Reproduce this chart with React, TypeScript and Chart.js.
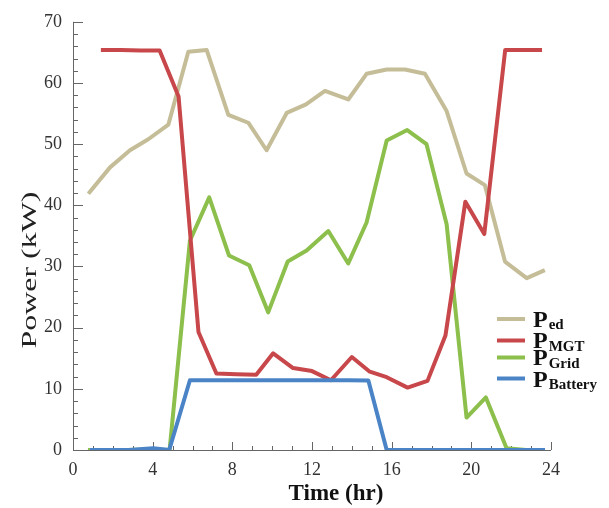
import React, { useEffect, useRef } from "react";
import { Chart, registerables } from "chart.js";

Chart.register(...registerables);

// Time (hr) and power (kW) for each series
const pedTime = [0.77, 1.86, 2.86, 3.78, 4.79, 5.79, 6.71, 7.8, 8.8, 9.72, 10.73, 11.7, 12.65, 13.82, 14.74, 15.75, 16.67, 17.67, 18.76, 19.76, 20.68, 21.69, 22.78, 23.69];
const pedPower = [41.9, 46.2, 49.0, 50.8, 53.2, 65.1, 65.4, 54.8, 53.5, 49.0, 55.1, 56.5, 58.7, 57.3, 61.5, 62.2, 62.2, 61.5, 55.4, 45.2, 43.3, 30.8, 28.1, 29.4];

const mgtTime = [1.4, 2.4, 3.4, 4.35, 5.3, 6.3, 7.2, 8.2, 9.2, 10.05, 11.05, 12.0, 12.95, 14.0, 14.9, 15.75, 16.8, 17.8, 18.7, 19.7, 20.65, 21.7, 22.6, 23.55];
const mgtPower = [65.4, 65.4, 65.3, 65.3, 57.8, 19.3, 12.5, 12.4, 12.3, 15.8, 13.4, 12.9, 11.4, 15.2, 12.8, 11.9, 10.2, 11.3, 18.7, 40.6, 35.3, 65.4, 65.4, 65.4];

const gridTime = [0.75, 1.75, 2.75, 3.75, 4.85, 5.87, 6.84, 7.83, 8.85, 9.8, 10.78, 11.73, 12.82, 13.82, 14.74, 15.75, 16.78, 17.75, 18.76, 19.76, 20.73, 21.77, 22.75, 23.7];
const gridPower = [0, 0, 0, 0.1, 0, 34.2, 41.3, 31.8, 30.2, 22.5, 30.8, 32.6, 35.8, 30.5, 37.2, 50.6, 52.3, 50.0, 36.9, 5.3, 8.6, 0.3, 0, 0];

const batTime = [0.85, 1.8, 2.8, 4.03, 4.83, 5.87, 6.84, 7.83, 8.85, 9.8, 10.78, 11.73, 12.82, 13.82, 14.83, 15.75, 16.78, 17.75, 18.76, 19.76, 20.73, 21.77, 22.75, 23.7];
const batPower = [0, 0, 0, 0.3, 0, 11.4, 11.4, 11.4, 11.4, 11.4, 11.4, 11.4, 11.4, 11.4, 11.35, 0, 0, 0, 0, 0, 0, 0, 0, 0];

const xTicks = [0, 4, 8, 12, 16, 20, 24];
const yTicks = [0, 10, 20, 30, 40, 50, 60, 70];

const seriesMain = ["P", "P", "P", "P"];
const seriesSub = ["ed", "MGT", "Grid", "Battery"];
const seriesColors = ["#C4BD97", "#C8474A", "#8CBF4B", "#4A84C6"];

const SERIF = '"Liberation Serif", "Times New Roman", serif';

function pts(xs: number[], ys: number[]) {
  return xs.map((x, i) => ({ x, y: ys[i] }));
}

const decorPlugin = {
  id: "decor",
  beforeDatasetsDraw(chart: any) {
    const ctx = chart.ctx;
    const xs = chart.scales.x;
    const ys = chart.scales.y;
    const left = xs.getPixelForValue(0);
    const right = xs.getPixelForValue(24);
    const bottom = ys.getPixelForValue(0);
    const top = ys.getPixelForValue(70);
    ctx.save();
    ctx.strokeStyle = "#666";
    ctx.lineWidth = 1;
    ctx.beginPath();
    ctx.moveTo(left + 0.5, top);
    ctx.lineTo(left + 0.5, bottom + 0.5);
    ctx.lineTo(right, bottom + 0.5);
    // y ticks every 2 kW, inward
    for (let v = 0; v <= 70; v += 2) {
      const py = Math.round(ys.getPixelForValue(v)) + 0.5;
      const len = v % 10 === 0 ? 10 : 5;
      ctx.moveTo(left, py);
      ctx.lineTo(left + len, py);
    }
    // x ticks every hour, upward
    for (let h = 1; h <= 24; h += 1) {
      const px = Math.round(xs.getPixelForValue(h)) + 0.5;
      const len = h % 4 === 0 ? 8 : 4;
      ctx.moveTo(px, bottom);
      ctx.lineTo(px, bottom - len);
    }
    ctx.stroke();
    ctx.restore();
  },
  afterDraw(chart: any) {
    const ctx = chart.ctx;
    ctx.save();
    // axis titles
    ctx.fillStyle = "#111";
    ctx.font = `bold 23px ${SERIF}`;
    ctx.textAlign = "center";
    ctx.textBaseline = "alphabetic";
    ctx.fillText("Time (hr)", 336, 500);

    ctx.save();
    ctx.translate(30, 270);
    ctx.rotate(-Math.PI / 2);
    ctx.scale(1.45, 1);
    ctx.font = `22px ${SERIF}`;
    ctx.textAlign = "center";
    ctx.textBaseline = "middle";
    ctx.fillStyle = "#222";
    ctx.fillText("Power (kW)", 0, 0);
    ctx.restore();

    // legend
    const lineY = [319, 340.5, 357.5, 378.5];
    const baseY = [326.5, 348, 365, 386.5];
    for (let i = 0; i < seriesSub.length; i++) {
      ctx.strokeStyle = seriesColors[i];
      ctx.lineWidth = 4;
      ctx.beginPath();
      ctx.moveTo(497, lineY[i]);
      ctx.lineTo(525, lineY[i]);
      ctx.stroke();
      ctx.fillStyle = "#111";
      ctx.textAlign = "left";
      ctx.textBaseline = "alphabetic";
      ctx.font = `bold 24px ${SERIF}`;
      ctx.fillText(seriesMain[i], 533, baseY[i]);
      const w = ctx.measureText(seriesMain[i]).width;
      ctx.font = `bold 15px ${SERIF}`;
      ctx.fillText(seriesSub[i], 533 + w + 1, baseY[i] + 2.5);
    }
    ctx.restore();
  },
};

export default function App() {
  const ref = useRef<HTMLCanvasElement | null>(null);

  useEffect(() => {
    if (!ref.current) return;
    const tickFont = { family: SERIF, size: 18 };
    const mk = (label: string, xs: number[], ys: number[], color: string, order: number) => ({
      label,
      data: pts(xs, ys),
      borderColor: color,
      backgroundColor: color,
      borderWidth: 4,
      pointRadius: 0,
      tension: 0,
      fill: false,
      borderJoinStyle: "round" as const,
      borderCapStyle: "butt" as const,
      order,
    });
    const chart = new Chart(ref.current, {
      type: "line",
      data: {
        datasets: [
          mk("Ped", pedTime, pedPower, seriesColors[0], 4),
          mk("PMGT", mgtTime, mgtPower, seriesColors[1], 2),
          mk("PGrid", gridTime, gridPower, seriesColors[2], 3),
          mk("PBattery", batTime, batPower, seriesColors[3], 1),
        ],
      },
      options: {
        animation: false,
        responsive: false,
        maintainAspectRatio: false,
        layout: { padding: { top: 14, right: 58, left: 0, bottom: 0 } },
        plugins: { legend: { display: false }, tooltip: { enabled: false } },
        scales: {
          x: {
            type: "linear",
            min: 0,
            max: 24,
            grid: { display: false, drawTicks: false },
            border: { display: false },
            afterBuildTicks: (s: any) => {
              s.ticks = xTicks.map((v) => ({ value: v }));
            },
            ticks: { color: "#333", font: tickFont, padding: 9, maxRotation: 0, autoSkip: false },
            afterFit: (s: any) => {
              s.height = 58;
            },
          },
          y: {
            type: "linear",
            min: 0,
            max: 70,
            grid: { display: false, drawTicks: false },
            border: { display: false },
            afterBuildTicks: (s: any) => {
              s.ticks = yTicks.map((v) => ({ value: v }));
            },
            ticks: { color: "#333", font: tickFont, padding: 11 },
            afterFit: (s: any) => {
              s.width = 73;
            },
          },
        },
      },
      plugins: [decorPlugin],
    });
    return () => chart.destroy();
  }, []);

  return (
    <div style={{ position: "absolute", left: 0, top: 0, width: 609, height: 508, background: "#fff" }}>
      <canvas ref={ref} width={609} height={508} style={{ display: "block" }} />
    </div>
  );
}
